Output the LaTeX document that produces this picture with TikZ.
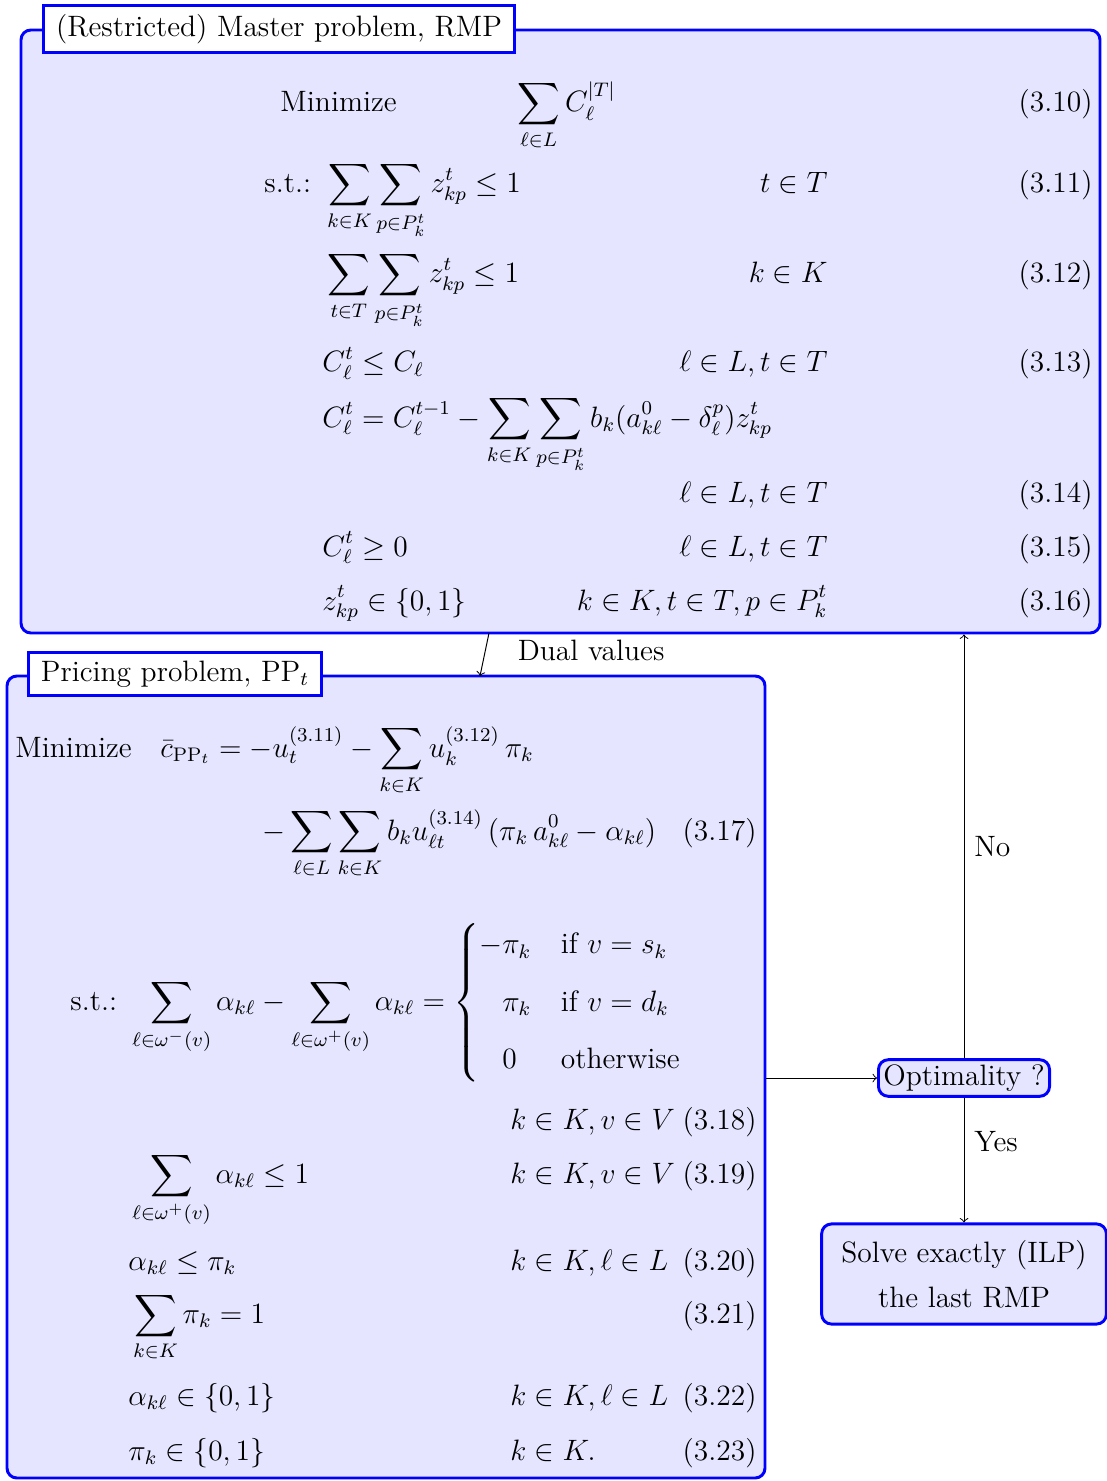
\documentclass[12pt,tikz,border=0pt]{standalone}
\usepackage{amsmath,amssymb}
\usetikzlibrary{positioning,fit}
\tikzset{
  bigbox/.style={draw=blue, very thick, fill=blue!10, rounded corners=4pt, inner sep=0pt},
  titlebox/.style={draw=blue, very thick, fill=white, inner xsep=5pt, inner ysep=3.5pt},
  stepbox/.style={draw=blue, very thick, fill=blue!10, rounded corners=4pt, align=center},
  eq/.style={inner sep=0pt, anchor=base west, execute at begin node=$\displaystyle, execute at end node=$},
  cond/.style={eq, anchor=base east},
  lbl/.style={inner sep=0pt, anchor=base west},
  tagno/.style={inner sep=0pt, anchor=base east},
}
\begin{document}
\begin{tikzpicture}[x=0.407pt, y=-0.407pt]
\useasboundingbox (0,0) rectangle (1107,1481);
% the two problem boxes
\node[bigbox, fit={(21,30) (1100,633)}] (rmp) {};
\node[bigbox, fit={(7,676) (765,1478)}] (pp) {};
\node[titlebox] (rmptitle) at (279,29) {(Restricted) Master problem, RMP};
\node[titlebox] (pptitle) at (175,674) {Pricing problem, PP$_t$};

% master problem
\node[lbl] (rmpmin) at (280,112) {Minimize};
\node[eq] (rmpobj) at (517,112) {\sum_{\ell\in L} C_\ell^{|T|}};
\node[lbl] (rmpst) at (264,193) {s.t.:};
\node[eq] (rmpa) at (327,193) {\sum_{k\in K}\sum_{p\in P_k^t} z_{kp}^t \le 1};
\node[eq] (rmpb) at (327,283) {\sum_{t\in T}\sum_{p\in P_k^t} z_{kp}^t \le 1};
\node[eq] (rmpc) at (322,372) {C_\ell^t \le C_\ell};
\node[eq] (rmpd) at (322,427) {C_\ell^t = C_\ell^{t-1} - \sum_{k\in K}\sum_{p\in P_k^t} b_k(a_{k\ell}^0 - \delta_\ell^p) z_{kp}^t};
\node[eq] (rmpe) at (322,556) {C_\ell^t \ge 0};
\node[eq] (rmpf) at (322,610) {z_{kp}^t \in \{0,1\}};
\foreach \y/\c in {193/{t\in T}, 283/{k\in K}, 372/{\ell\in L, t\in T}, 502/{\ell\in L, t\in T},
                   556/{\ell\in L, t\in T}, 610/{k\in K, t\in T, p\in P_k^t}}
{
  \node[cond] at (828,\y) {\c};
}
\foreach \y/\n in {112/10, 193/11, 283/12, 372/13, 502/14, 556/15, 610/16}
{
  \node[tagno] (tag\n) at (1093,\y) {(3.\n)};
}

% pricing problem
\node[lbl] (ppmin) at (15,757) {Minimize};
\node[eq] (ppobj) at (160,757) {\bar{c}_{\mathrm{PP}_t} = -u_t^{(3.11)} - \sum_{k\in K} u_k^{(3.12)}\,\pi_k};
\node[eq] (ppobjb) at (262,840) {-\sum_{\ell\in L}\sum_{k\in K} b_k u_{\ell t}^{(3.14)}\,(\pi_k\, a_{k\ell}^0 - \alpha_{k\ell})};
\node[lbl] (ppst) at (70,1010) {s.t.:};
\node[eq] (ppa) at (132,1010) {\sum_{\ell\in\omega^-(v)}\alpha_{k\ell} - \sum_{\ell\in\omega^+(v)}\alpha_{k\ell} =
  \begin{cases} -\pi_k & \text{if } v = s_k\\[6pt] \phantom{-}\pi_k & \text{if } v = d_k\\[6pt] \phantom{-}0 & \text{otherwise}\end{cases}};
\node[eq] (ppb) at (132,1183) {\sum_{\ell\in\omega^+(v)}\alpha_{k\ell} \le 1};
\node[eq] (ppc) at (128,1270) {\alpha_{k\ell} \le \pi_k};
\node[eq] (ppd) at (133,1323) {\sum_{k\in K}\pi_k = 1};
\node[eq] (ppe) at (128,1405) {\alpha_{k\ell} \in \{0,1\}};
\node[eq] (ppf) at (128,1460) {\pi_k \in \{0,1\}};
\foreach \y/\c in {1129/{k\in K, v\in V}, 1183/{k\in K, v\in V}, 1270/{k\in K, \ell\in L},
                   1405/{k\in K, \ell\in L}, 1460/{k\in K.}}
{
  \node[eq] at (510,\y) {\c};
}
\foreach \y/\n in {840/17, 1129/18, 1183/19, 1270/20, 1323/21, 1405/22, 1460/23}
{
  \node[tagno] (tag\n) at (757,\y) {(3.\n)};
}

% decision
\node[stepbox, inner sep=2pt] (opt) at (964,1078) {Optimality ?};
\node[stepbox, inner xsep=8pt, inner ysep=6.5pt] (solve) at (964,1274) {Solve exactly (ILP)\\[4pt] the last RMP};

\draw[->] (pp.east |- opt.west) -- (opt.west);
\draw[->] (opt.north) -- (opt.north |- rmp.south) node[midway, right] {No};
\draw[->] (opt.south) -- (solve.north) node[pos=0.35, right] {Yes};
\coordinate (dualfrom) at (489,633);
\coordinate (dualto) at (480,676);
\draw[->] (dualfrom) -- (dualto) node[pos=0.4, right=9pt] {Dual values};
\end{tikzpicture}
\end{document}
